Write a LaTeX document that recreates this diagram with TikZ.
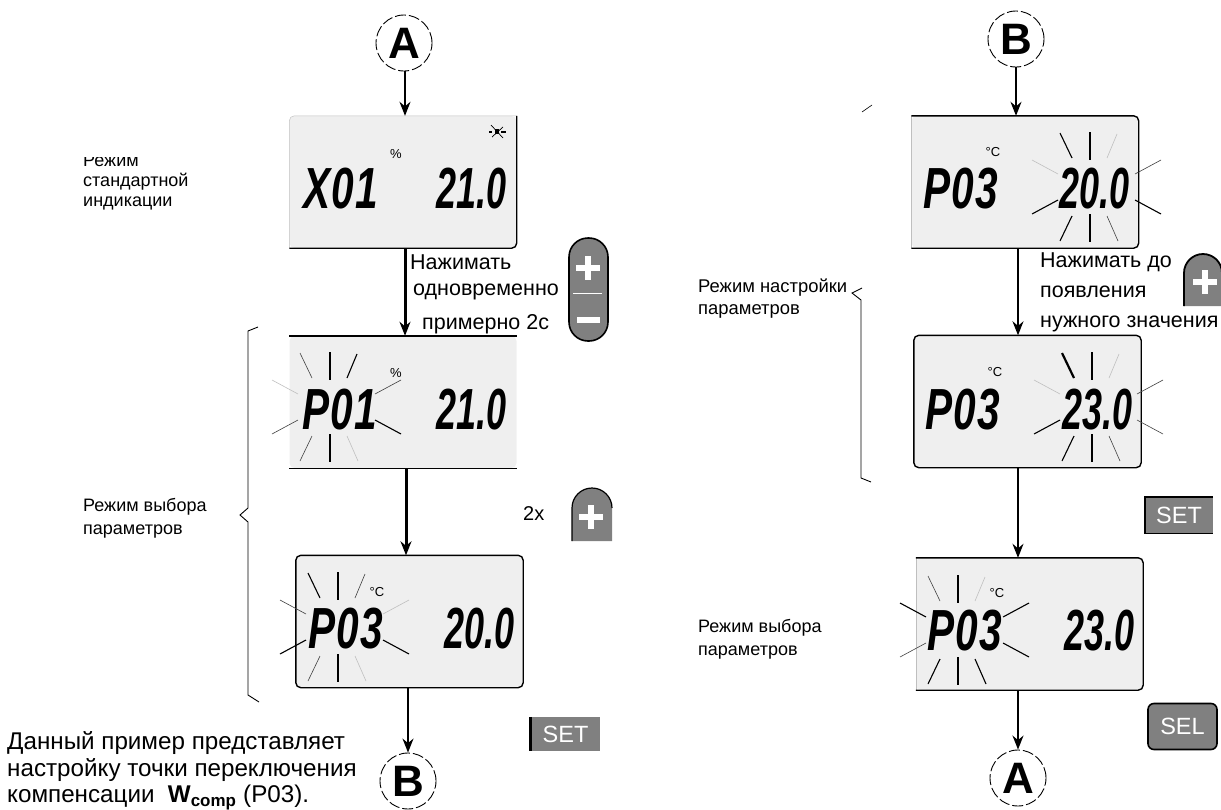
\documentclass[tikz,border=0pt]{standalone}
\usepackage{amsmath, amssymb, graphicx}
\usepackage{fontspec}
\setmainfont{Liberation Sans}
\newfontfamily\lcdfont[LetterSpace=3]{Liberation Sans}
\newfontfamily\lcdvalfont{Liberation Sans}
\usetikzlibrary{arrows.meta,positioning}

\definecolor{lcdgray}{HTML}{EFEFEF}
\definecolor{keygray}{HTML}{808080}

\tikzset{
  lcdbox/.style={fill=lcdgray,rounded corners=5pt,minimum width=#1,minimum height=132pt,inner sep=0pt},
  lcdbox/.default=227pt,
  edgeline/.style={line width=1.4pt,rounded corners=5pt},
  faintline/.style={line width=0.5pt,lightgray,rounded corners=5pt},
  flow/.style={line width=1.6pt,-{Stealth[length=14pt,width=11pt]}},
  flowbold/.style={line width=3pt,-{Stealth[length=14pt,width=11pt]}},
  jump/.style={circle,draw,dashed,dash pattern=on 11pt off 3pt,line width=0.9pt,minimum size=56pt,inner sep=0pt,font=\fontsize{44}{44}\selectfont\bfseries},
  lcdtext/.style={font=\fontsize{58}{58}\lcdfont\bfseries\itshape,xscale=0.7,inner sep=0pt},
  lcdval/.style={font=\fontsize{58}{58}\lcdvalfont\bfseries\itshape,xscale=0.62,inner sep=0pt},
  unit/.style={font=\fontsize{13}{13}\selectfont,inner sep=0pt},
  caption/.style={font=\fontsize{18}{23}\selectfont,align=left,anchor=west,inner sep=0pt},
  hint/.style={font=\fontsize{21.5}{21.5}\selectfont,anchor=west,inner sep=0pt},
  keytext/.style={font=\fontsize{23.5}{23.5}\selectfont,text=white,inner sep=0pt},
  rh/.style={line width=2.2pt},
  rm/.style={line width=1.1pt},
  rt/.style={line width=0.6pt,darkgray},
  rl/.style={line width=0.6pt,lightgray},
  pluscross/.style={white,line width=6pt}
}

% flash round a blinking field: up, down, four diagonals, left pair, right pair
\newcommand{\flash}[3]{%
  \begin{scope}[shift={(#1,#2)}]
    \foreach \st [count=\k] in {#3} {
      \ifcase\k\or
        \draw[\st] (0,-55) -- (0,-27);\or
        \draw[\st] (0,27) -- (0,55);\or
        \draw[\st] (-30,-54) -- (-18,-29);\or
        \draw[\st] (27,-53) -- (17,-29);\or
        \draw[\st] (-30,54) -- (-18,29);\or
        \draw[\st] (28,54) -- (17,29);\or
        \draw[\st] (-58,-27) -- (-32,-13);\or
        \draw[\st] (-58,27) -- (-32,13);\or
        \draw[\st] (71,-27) -- (45,-13);\or
        \draw[\st] (71,27) -- (45,13);\fi
    }
  \end{scope}}
% plus sign of a key
\newcommand{\plussign}[2]{%
  \draw[pluscross] (#1-12,#2) -- (#1+12,#2);
  \draw[pluscross] (#1,#2-12) -- (#1,#2+12);}

\begin{document}
\begin{tikzpicture}[x=1pt,y=-1pt]
  \useasboundingbox (0,0) rectangle (1221,809);

  % left column
  \node[jump] (jumpa) at (404,43) {A};
  \node[lcdbox] (lcdx) at (403,182) {};
  \node[lcdbox] (lcdp) at (403,402) {};
  \node[lcdbox] (lcdq) at (409.5,621.5) {};
  \node[jump] (jumpb) at (408,781) {B};

  \draw[faintline] (lcdx.south west) -- (lcdx.north west) -- (lcdx.north east);
  \draw[edgeline] (lcdx.north east) -- (lcdx.south east) -- (lcdx.south west);
  \draw[edgeline] (lcdp.north west) -- (lcdp.north east);
  \draw[edgeline] (lcdp.south west) -- (lcdp.south east);
  \draw[edgeline] (lcdq.north west) rectangle (lcdq.south east);

  \draw[flow] ([xshift=1pt]jumpa.south) -- ([xshift=2pt]lcdx.north);
  \draw[flowbold] ([xshift=2pt]lcdx.south) -- ([xshift=2pt]lcdp.north);
  \draw[flowbold] ([xshift=3pt]lcdp.south) -- ([xshift=-3.5pt]lcdq.north);
  \draw[flow] ([xshift=-1.5pt]lcdq.south) -- (jumpb.north);

  % right column
  \node[jump] (jumpc) at (1016,39) {B};
  \node[lcdbox] (lcdr) at (1025,182) {};
  \node[lcdbox] (lcds) at (1027.5,401.5) {};
  \node[lcdbox] (lcdt) at (1029.5,624) {};
  \node[jump] (jumpd) at (1018,778) {A};

  \draw[faintline] (lcdr.north west) -- (lcdr.south west);
  \draw[edgeline] (lcdr.north west) -- (lcdr.north east) -- (lcdr.south east) -- (lcdr.south west);
  \draw[edgeline] (lcds.north west) rectangle (lcds.south east);
  \draw[faintline] (lcdt.north west) -- (lcdt.south west);
  \draw[edgeline] (lcdt.north west) -- (lcdt.north east) -- (lcdt.south east) -- (lcdt.south west);

  \draw[flow] (jumpc.south) -- ([xshift=-9pt]lcdr.north);
  \draw[flow] ([xshift=-7pt]lcdr.south) -- ([xshift=-9.5pt]lcds.north);
  \draw[flow] ([xshift=-9.5pt]lcds.south) -- ([xshift=-11.5pt]lcdt.north);
  \draw[flow] ([xshift=-11.5pt]lcdt.south) -- (jumpd.north);

  % display contents
  \node[lcdtext,anchor=west] (xname) at (303,189) {X01};
  \node[lcdval,anchor=east] (xval) at (507,189) {21.0};
  \node[lcdtext,anchor=west] (pname) at (302,410) {P01};
  \node[lcdval,anchor=east] (pval) at (507,410) {21.0};
  \node[lcdtext,anchor=west] (qname) at (308,629) {P03};
  \node[lcdval,anchor=east] (qval) at (515,629) {20.0};
  \node[lcdtext,anchor=west] (rname) at (923,189) {P03};
  \node[lcdval,anchor=east] (rval) at (1130,189) {20.0};
  \node[lcdtext,anchor=west] (sname) at (925,410) {P03};
  \node[lcdval,anchor=east] (sval) at (1133,410) {23.0};
  \node[lcdtext,anchor=west] (tname) at (927,631) {P03};
  \node[lcdval,anchor=east] (tval) at (1135,631) {23.0};

  \node[unit] (xunit) at (396,154) {\%};
  \node[unit] (punit) at (396,373) {\%};
  \node[unit] (qunit) at (377,592) {°C};
  \node[unit] (runit) at (993,152) {°C};
  \node[unit] (sunit) at (995,372) {°C};
  \node[unit] (tunit) at (997,593) {°C};

  % burner sign
  \draw[line width=0.7pt] (491,125) -- (503,138);
  \draw[line width=0.7pt] (492,137) -- (503,127);
  \fill (495,129) rectangle (499,134);
  \draw[line width=1.2pt] (489,132) -- (492,132) (501,132) -- (506,132);

  % flashes
  \flash{330}{407}{rh,rh,rt,rm,rt,rl,rl,rt,rt,rm}
  \flash{338}{627}{rh,rh,rm,rt,rt,rl,rt,rm,rl,rm}
  \flash{1090}{187}{rh,rh,rm,rl,rm,rt,rl,rm,rt,rm}
  \flash{1092}{407}{rm,rm,rh,rl,rm,rt,rl,rm,rt,rt}
  \flash{958}{630}{rh,rh,rt,rl,rm,rm,rm,rt,rm,rm}

  % side brackets
  \draw[line width=0.9pt] (258,327) -- (248,331) -- (248,508) -- (240,515) -- (248,522) -- (248,695) -- (259,702);
  \draw[line width=0.9pt] (862,288) -- (852,293) -- (861,300) -- (861,478) -- (871,482);
  \draw[line width=0.6pt] (862,112) -- (872,105);

  % captions
  \node[caption,font=\fontsize{18}{20}\selectfont] (capa) at (83,182) {Режим\\стандартной\\индикации};
  \fill[white] (80,148) rectangle (140,157);
  \node[caption] (capb) at (83,518) {Режим выбора\\параметров};
  \node[caption,font=\fontsize{18.4}{22}\selectfont] (capc) at (698,299) {Режим настройки\\параметров};
  \node[caption] (capd) at (698,639) {Режим выбора\\параметров};
  \node[font=\fontsize{24.2}{26.5}\selectfont,align=left,anchor=west,inner sep=0pt] (note) at (7,771)
    {Данный пример представляет\\настройку точки переключения\\компенсации \ \textbf{W\textsubscript{comp}} (P03).};

  % hints beside the arrows
  \node[hint] (hinta) at (410,262) {Нажимать};
  \node[hint] (hintb) at (413,292) {одновременно};
  \node[hint] (hintc) at (422,324) {примерно 2с};
  \node[font=\fontsize{20}{20}\selectfont,anchor=west,inner sep=0pt] (twice) at (523,514) {2x};
  \node[hint] (hintd) at (1040,262) {Нажимать до};
  \node[hint] (hinte) at (1040,292) {появления};
  \node[hint] (hintf) at (1040,324) {нужного значения};

  % keys
  \draw[fill=keygray,line width=1.6pt,rounded corners=19pt] (569,238) rectangle (608,341);
  \plussign{588}{268}
  \draw[white,line width=1pt] (573,293) -- (602,293);
  \draw[white,line width=6pt] (577,320) -- (600,320);

  \fill[keygray] (572,541) -- (572,508) arc (180:360:20) -- (612,541) -- cycle;
  \draw[line width=1.2pt] (572,541) -- (572,508) arc (180:360:20);
  \plussign{591}{517}

  \fill[keygray] (1184,306) -- (1184,273) arc (180:360:19) -- (1222,306) -- cycle;
  \draw[line width=1.8pt] (1184,306) -- (1184,273) arc (180:360:19);
  \plussign{1205}{282}

  \node[fill=keygray,keytext,minimum width=69pt,minimum height=34pt] (seta) at (565.5,734) {SET};
  \draw[line width=3pt] (seta.north west) -- (seta.south west);
  \node[fill=keygray,keytext,minimum width=68pt,minimum height=36pt] (setb) at (1179,515) {SET};
  \draw[line width=1.4pt] (setb.north east) -- (setb.north west) -- (setb.south west) -- (setb.south east);
  \node[draw,line width=1.6pt,rounded corners=6pt,fill=keygray,keytext,minimum width=69pt,minimum height=46pt] (sel) at (1182.5,726.5) {SEL};
\end{tikzpicture}
\end{document}
